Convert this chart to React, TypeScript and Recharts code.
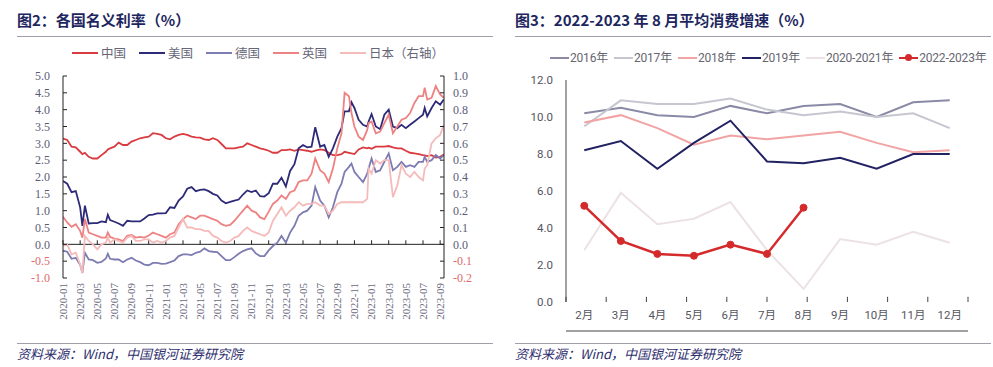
import React from 'react';
import { LineChart, Line, XAxis, YAxis, ReferenceLine } from 'recharts';

// ---------- Figure 2: nominal rates ----------
const rateDates = [
  '2020-01-01','2020-01-16','2020-02-01','2020-02-16','2020-03-01','2020-03-09','2020-03-18','2020-04-01','2020-04-16','2020-05-01','2020-05-16','2020-06-01','2020-06-08','2020-06-16','2020-07-01','2020-07-16','2020-08-01','2020-08-16','2020-09-01','2020-09-16','2020-10-01','2020-10-16','2020-11-01','2020-11-16','2020-12-01','2020-12-16',
  '2021-01-01','2021-01-16','2021-02-01','2021-02-16','2021-03-01','2021-03-16','2021-04-01','2021-04-16','2021-05-01','2021-05-16','2021-06-01','2021-06-16','2021-07-01','2021-07-16','2021-08-01','2021-08-16','2021-09-01','2021-09-16','2021-10-01','2021-10-16','2021-11-01','2021-11-16','2021-12-01','2021-12-16',
  '2022-01-01','2022-01-16','2022-02-01','2022-02-16','2022-03-01','2022-03-16','2022-04-01','2022-04-16','2022-05-01','2022-05-16','2022-06-01','2022-06-14','2022-07-01','2022-07-16','2022-08-01','2022-08-16','2022-09-01','2022-09-16','2022-09-27','2022-10-12','2022-10-21','2022-11-01','2022-11-16','2022-12-01','2022-12-16','2022-12-21',
  '2023-01-01','2023-01-16','2023-02-01','2023-02-16','2023-03-01','2023-03-16','2023-04-01','2023-04-16','2023-05-01','2023-05-16','2023-06-01','2023-06-16','2023-07-01','2023-07-07','2023-07-16','2023-08-01','2023-08-16','2023-09-01','2023-09-14',
];
const chinaRate = [
  3.14,3.10,2.90,2.88,2.75,2.68,2.72,2.60,2.55,2.55,2.65,2.75,2.82,2.85,2.90,3.02,2.95,2.95,3.05,3.10,3.15,3.18,3.20,3.30,3.28,3.25,
  3.15,3.12,3.20,3.25,3.28,3.25,3.20,3.18,3.17,3.12,3.10,3.15,3.10,2.98,2.85,2.85,2.85,2.88,2.90,3.00,2.95,2.90,2.85,2.82,
  2.78,2.72,2.72,2.80,2.80,2.82,2.78,2.82,2.80,2.78,2.75,2.78,2.82,2.80,2.72,2.65,2.65,2.68,2.75,2.72,2.70,2.68,2.82,2.88,2.85,2.87,
  2.84,2.90,2.90,2.90,2.92,2.88,2.85,2.85,2.78,2.72,2.70,2.68,2.65,2.64,2.62,2.65,2.58,2.60,2.67,
];
const usRate = [
  1.88,1.80,1.55,1.58,1.10,0.55,1.15,0.62,0.63,0.63,0.68,0.66,0.88,0.72,0.67,0.62,0.55,0.70,0.68,0.68,0.68,0.77,0.87,0.88,0.92,0.92,
  0.93,1.10,1.08,1.30,1.42,1.65,1.70,1.58,1.62,1.63,1.58,1.50,1.45,1.30,1.22,1.26,1.30,1.33,1.48,1.60,1.55,1.60,1.43,1.42,
  1.52,1.80,1.80,1.98,1.72,2.18,2.38,2.85,2.95,2.88,2.90,3.48,2.90,2.95,2.60,2.85,3.20,3.45,3.95,3.95,4.22,4.05,3.70,3.55,3.50,3.65,
  3.87,3.50,3.42,3.85,4.00,3.50,3.45,3.55,3.45,3.55,3.65,3.75,3.85,4.05,3.80,4.05,4.25,4.15,4.30,
];
const germanyRate = [
  -0.19,-0.22,-0.43,-0.40,-0.61,-0.85,-0.25,-0.45,-0.47,-0.55,-0.52,-0.42,-0.28,-0.43,-0.45,-0.45,-0.53,-0.45,-0.40,-0.48,-0.53,-0.60,-0.62,-0.55,-0.55,-0.58,
  -0.57,-0.53,-0.48,-0.35,-0.30,-0.30,-0.32,-0.25,-0.22,-0.12,-0.20,-0.22,-0.23,-0.35,-0.47,-0.47,-0.38,-0.28,-0.20,-0.15,-0.12,-0.27,-0.35,-0.35,
  -0.18,-0.05,0.05,0.25,0.05,0.35,0.55,0.85,0.95,1.00,1.15,1.70,1.30,1.15,0.80,1.10,1.55,1.80,2.15,2.30,2.40,2.15,2.00,1.85,2.10,2.25,
  2.55,2.15,2.20,2.45,2.70,2.20,2.30,2.45,2.30,2.35,2.30,2.45,2.45,2.60,2.45,2.50,2.65,2.55,2.65,
];
const ukRate = [
  0.82,0.65,0.52,0.60,0.40,0.20,0.75,0.35,0.30,0.25,0.20,0.20,0.35,0.22,0.17,0.15,0.10,0.25,0.28,0.20,0.22,0.20,0.26,0.35,0.30,0.25,
  0.20,0.30,0.35,0.60,0.75,0.85,0.80,0.75,0.85,0.85,0.80,0.75,0.70,0.60,0.55,0.58,0.70,0.85,1.00,1.15,1.00,0.95,0.80,0.75,
  0.97,1.20,1.30,1.45,1.35,1.55,1.60,1.85,1.90,1.90,2.10,2.55,2.20,2.10,1.85,2.25,2.85,3.30,4.50,4.40,3.90,3.50,3.20,3.10,3.40,3.60,
  3.65,3.30,3.35,3.60,3.85,3.30,3.50,3.70,3.75,3.90,4.20,4.40,4.40,4.65,4.30,4.35,4.70,4.45,4.35,
];
const japanRate = [
  -0.01,0.00,-0.06,-0.05,-0.12,-0.17,0.05,0.02,0.00,-0.03,0.00,0.01,0.04,0.01,0.03,0.02,0.01,0.04,0.05,0.02,0.02,0.03,0.03,0.01,0.02,0.01,
  0.02,0.04,0.05,0.10,0.15,0.10,0.10,0.09,0.09,0.08,0.08,0.05,0.04,0.02,0.01,0.02,0.04,0.05,0.08,0.10,0.08,0.07,0.06,0.05,
  0.07,0.14,0.18,0.22,0.17,0.20,0.22,0.25,0.23,0.24,0.24,0.25,0.23,0.23,0.18,0.20,0.24,0.25,0.25,0.25,0.25,0.25,0.25,0.25,0.27,0.45,
  0.42,0.50,0.48,0.50,0.50,0.28,0.35,0.47,0.42,0.40,0.43,0.40,0.38,0.45,0.47,0.60,0.63,0.65,0.71,
];
const rateTickLabels = [
  '2020-01','2020-03','2020-05','2020-07','2020-09','2020-11',
  '2021-01','2021-03','2021-05','2021-07','2021-09','2021-11',
  '2022-01','2022-03','2022-05','2022-07','2022-09','2022-11',
  '2023-01','2023-03','2023-05','2023-07','2023-09',
];
const leftAxisTicks = [5.0, 4.5, 4.0, 3.5, 3.0, 2.5, 2.0, 1.5, 1.0, 0.5, 0.0, -0.5, -1.0];
const rightAxisTicks = [1.0, 0.9, 0.8, 0.7, 0.6, 0.5, 0.4, 0.3, 0.2, 0.1, 0.0, -0.1, -0.2];
const rateSeries = [
  { key: 'china', name: '中国', color: '#D93B40', axis: 'left' },
  { key: 'us', name: '美国', color: '#2D2B78', axis: 'left' },
  { key: 'germany', name: '德国', color: '#7D7CB2', axis: 'left' },
  { key: 'uk', name: '英国', color: '#EE8282', axis: 'left' },
  { key: 'japan', name: '日本（右轴）', color: '#F5BABA', axis: 'right' },
];

// ---------- Figure 3: retail sales growth ----------
const salesMonths = ['2月', '3月', '4月', '5月', '6月', '7月', '8月', '9月', '10月', '11月', '12月'];
const sales2016 = [10.2, 10.5, 10.1, 10.0, 10.6, 10.2, 10.6, 10.7, 10.0, 10.8, 10.9];
const sales2017 = [9.5, 10.9, 10.7, 10.7, 11.0, 10.4, 10.1, 10.3, 10.0, 10.2, 9.4];
const sales2018 = [9.7, 10.1, 9.4, 8.5, 9.0, 8.8, 9.0, 9.2, 8.6, 8.1, 8.2];
const sales2019 = [8.2, 8.7, 7.2, 8.6, 9.8, 7.6, 7.5, 7.8, 7.2, 8.0, 8.0];
const sales2020_2021 = [2.8, 5.9, 4.2, 4.5, 5.4, 2.8, 0.7, 3.4, 3.1, 3.8, 3.2];
const sales2022_2023 = [5.2, 3.3, 2.6, 2.5, 3.1, 2.6, 5.1, null, null, null, null];
const salesAxisTicks = [0, 2, 4, 6, 8, 10, 12];
const salesSeries = [
  { key: 's2016', name: '2016年', color: '#8A8AA6', dot: false },
  { key: 's2017', name: '2017年', color: '#C6C6D0', dot: false },
  { key: 's2018', name: '2018年', color: '#F2A3A3', dot: false },
  { key: 's2019', name: '2019年', color: '#222262', dot: false },
  { key: 's2020', name: '2020-2021年', color: '#ECE2E4', dot: false },
  { key: 's2022', name: '2022-2023年', color: '#D42A2C', dot: true },
];

// ---------- build tables ----------
const monthIndex = (d: string) => {
  const [y, m, day] = d.split('-').map(Number);
  return (y - 2020) * 12 + (m - 1) + ((day || 1) - 1) / 30.5;
};
const rateData = rateDates.map((d, i) => ({
  t: monthIndex(d),
  china: chinaRate[i],
  us: usRate[i],
  germany: germanyRate[i],
  uk: ukRate[i],
  japan: japanRate[i],
}));
const rateTicks = rateTickLabels.map((l) => monthIndex(l + '-01'));
const labelOf = (t: number) => {
  const i = rateTicks.findIndex((v) => Math.abs(v - t) < 1e-6);
  return i >= 0 ? rateTickLabels[i] : '';
};

const salesData = salesMonths.map((m, i) => ({
  month: m,
  s2016: sales2016[i],
  s2017: sales2017[i],
  s2018: sales2018[i],
  s2019: sales2019[i],
  s2020: sales2020_2021[i],
  s2022: sales2022_2023[i],
}));
const edgeTicks = salesMonths.map((_, i) => i).concat([salesMonths.length]);

const SERIF = '"Liberation Serif", "Times New Roman", serif';
const CJK = '"Noto Sans CJK SC", "Noto Sans", sans-serif';
const SANS = 'Roboto, "Noto Sans CJK SC", sans-serif';

const RotTick = (props: any) => {
  const { x, y, payload } = props;
  return (
    <text
      x={x}
      y={y}
      transform={`rotate(-90 ${x} ${y})`}
      textAnchor="end"
      dy="0.35em"
      fontFamily={SERIF}
      fontSize={11}
      fill="#6A6A7E"
    >
      {labelOf(payload.value)}
    </text>
  );
};

const ValTick = (props: any) => {
  const { x, y, payload, textAnchor } = props;
  const v = Number(payload.value);
  return (
    <text
      x={x}
      y={y}
      dy="0.35em"
      textAnchor={textAnchor}
      fontFamily={SERIF}
      fontSize={12}
      fill={v < 0 ? '#E06A6A' : '#5C5C78'}
    >
      {v.toFixed(1)}
    </text>
  );
};

const EmptyTick = () => <g />;

const Legend1 = () => (
  <div
    style={{
      position: 'absolute',
      left: 72,
      top: 45,
      display: 'flex',
      gap: 13,
      fontFamily: CJK,
      fontSize: 12.5,
      color: '#666677',
      lineHeight: '16px',
    }}
  >
    {rateSeries.map((s) => (
      <div key={s.key} style={{ display: 'flex', alignItems: 'center' }}>
        <div style={{ width: 26, height: 2, background: s.color, marginRight: 3 }} />
        <span>{s.name}</span>
      </div>
    ))}
  </div>
);

const Legend2 = () => (
  <div
    style={{
      position: 'absolute',
      left: 550,
      top: 50,
      display: 'flex',
      gap: 6,
      fontFamily: SANS,
      fontSize: 12,
      color: '#666670',
      lineHeight: '16px',
      letterSpacing: -0.2,
    }}
  >
    {salesSeries.map((s) => (
      <div key={s.key} style={{ display: 'flex', alignItems: 'center' }}>
        <div style={{ position: 'relative', width: 19, height: 2, background: s.color, marginRight: 1 }}>
          {s.dot && (
            <div
              style={{
                position: 'absolute',
                left: 6,
                top: -3,
                width: 7,
                height: 7,
                borderRadius: 4,
                background: s.color,
              }}
            />
          )}
        </div>
        <span>{s.name}</span>
      </div>
    ))}
  </div>
);

const titleStyle: React.CSSProperties = {
  position: 'absolute',
  top: 10,
  fontFamily: CJK,
  fontWeight: 700,
  fontSize: 15,
  color: '#1E2660',
  lineHeight: '20px',
  whiteSpace: 'nowrap',
};
const footStyle: React.CSSProperties = {
  position: 'absolute',
  top: 345,
  fontFamily: CJK,
  fontStyle: 'italic',
  fontSize: 13,
  color: '#2E2E6E',
  lineHeight: '18px',
  whiteSpace: 'nowrap',
};
const rule = (left: number, top: number, width: number): React.CSSProperties => ({
  position: 'absolute',
  left,
  top,
  width,
  height: 1,
  background: '#A0A0A8',
});

export default function App() {
  return (
    <div
      style={{
        position: 'absolute',
        left: 0,
        top: 0,
        width: 993,
        height: 367,
        background: '#FFFFFF',
        overflow: 'hidden',
      }}
    >
      {/* Left panel */}
      <div style={{ ...titleStyle, left: 17 }}>图2：各国名义利率（%）</div>
      <div style={rule(17, 36, 476)} />
      <Legend1 />
      <div style={{ position: 'absolute', left: 0, top: 60 }}>
        <LineChart width={500} height={270} data={rateData} margin={{ top: 16, right: 0, bottom: 8, left: 0 }}>
          <XAxis
            type="number"
            dataKey="t"
            domain={[0, 44.45]}
            ticks={rateTicks}
            allowDataOverflow
            interval={0}
            axisLine={false}
            tickLine={false}
            tickSize={3}
            tickMargin={2}
            height={44}
            tick={<RotTick />}
          />
          <YAxis
            yAxisId="left"
            domain={[-1, 5]}
            ticks={leftAxisTicks}
            interval={0}
            allowDataOverflow
            width={63}
            tickSize={-4}
            tickMargin={17}
            axisLine={{ stroke: '#222' }}
            tickLine={{ stroke: '#222' }}
            tick={<ValTick />}
          />
          <YAxis
            yAxisId="right"
            orientation="right"
            domain={[-0.2, 1]}
            ticks={rightAxisTicks}
            interval={0}
            allowDataOverflow
            width={56}
            tickSize={-4}
            tickMargin={13}
            axisLine={{ stroke: '#222' }}
            tickLine={{ stroke: '#222' }}
            tick={<ValTick />}
          />
          <ReferenceLine yAxisId="left" y={0} stroke="#222" strokeWidth={1} />
          {rateTicks.map((t) => (
            <ReferenceLine
              key={'tk' + t}
              yAxisId="left"
              segment={[
                { x: t, y: 0 },
                { x: t, y: 0.12 },
              ]}
              stroke="#222"
            />
          ))}
          {rateSeries.map((s) => (
            <Line
              key={s.key}
              yAxisId={s.axis}
              dataKey={s.key}
              name={s.name}
              stroke={s.color}
              strokeWidth={1.8}
              dot={false}
              type="linear"
              isAnimationActive={false}
            />
          ))}
        </LineChart>
      </div>
      <div style={rule(17, 343, 476)} />
      <div style={{ ...footStyle, left: 17 }}>资料来源：Wind，中国银河证券研究院</div>

      {/* Right panel */}
      <div style={{ ...titleStyle, left: 515 }}>图3：2022-2023 年 8 月平均消费增速（%）</div>
      <div style={rule(515, 36, 476)} />
      <Legend2 />
      <div style={{ position: 'absolute', left: 500, top: 64 }}>
        <LineChart width={480} height={270} data={salesData} margin={{ top: 16, right: 12, bottom: 2, left: 0 }}>
          <XAxis
            xAxisId="edge"
            type="number"
            domain={[0, salesMonths.length]}
            ticks={edgeTicks}
            interval={0}
            allowDataOverflow
            tick={<EmptyTick />}
            tickLine={false}
            tickSize={0}
            height={1}
            axisLine={{ stroke: '#444' }}
          />
          <XAxis
            xAxisId="cat"
            dataKey="month"
            scale="band"
            interval={0}
            axisLine={false}
            tickLine={false}
            tickSize={0}
            tickMargin={9}
            height={29}
            tick={{ fontFamily: SANS, fontSize: 11.5, fill: '#555560' }}
          />
          <YAxis
            domain={[0, 12]}
            ticks={salesAxisTicks}
            interval={0}
            width={66}
            tickLine={false}
            tickSize={0}
            tickMargin={13}
            axisLine={{ stroke: '#444' }}
            tickFormatter={(v: number) => v.toFixed(1)}
            tick={{ fontFamily: SANS, fontSize: 11.5, fill: '#555560' }}
          />
          {edgeTicks.map((t) => (
            <ReferenceLine
              key={'et' + t}
              xAxisId="edge"
              segment={[
                { x: t, y: 0 },
                { x: t, y: 0.28 },
              ]}
              stroke="#444"
              ifOverflow="visible"
            />
          ))}
          {salesSeries.map((s) => (
            <Line
              key={s.key}
              xAxisId="cat"
              dataKey={s.key}
              name={s.name}
              stroke={s.color}
              strokeWidth={s.dot ? 2.5 : 2}
              dot={s.dot ? { r: 3.5, fill: s.color, stroke: s.color, strokeWidth: 1 } : false}
              type="linear"
              connectNulls={false}
              isAnimationActive={false}
            />
          ))}
        </LineChart>
      </div>
      <div style={rule(515, 343, 476)} />
      <div style={{ ...footStyle, left: 515 }}>资料来源：Wind，中国银河证券研究院</div>
    </div>
  );
}
